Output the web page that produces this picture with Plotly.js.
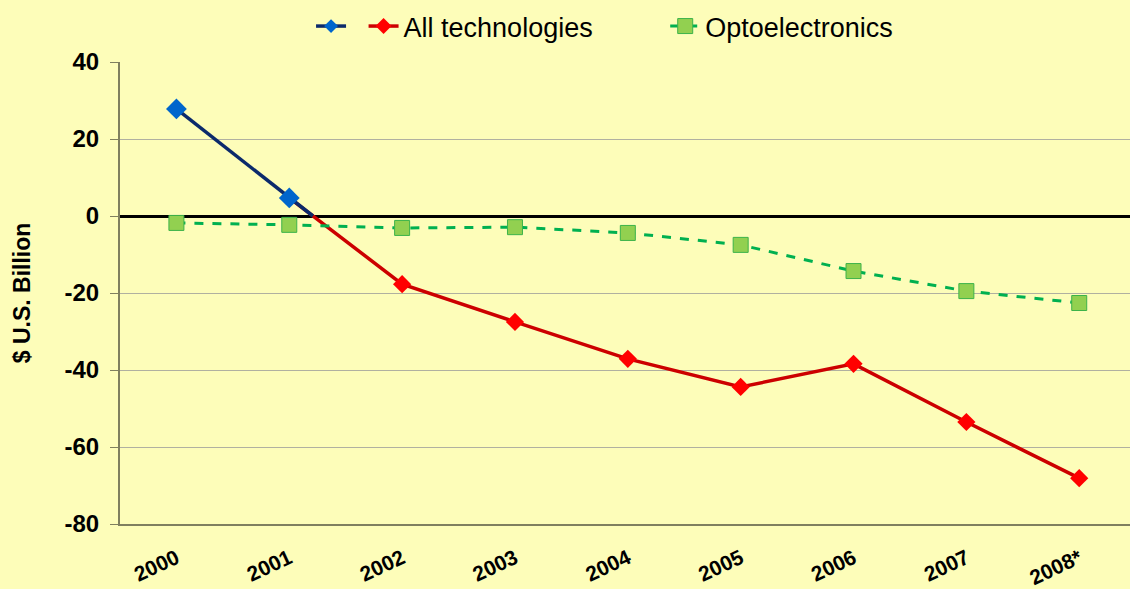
<!DOCTYPE html>
<html><head><meta charset="utf-8">
<script src="https://cdn.plot.ly/plotly-3.0.1.min.js"></script>
<style>body{margin:0;background:#FDFDB9;} #chart{width:1130px;height:589px;}</style>
</head><body><div id="chart"></div>
<script>
const years = ["2000","2001","2002","2003","2004","2005","2006","2007","2008*"];
const allTech = [27.8, 4.7, -17.7, -27.5, -37.1, -44.4, -38.4, -53.5, -68.1];
const opto = [-1.8, -2.3, -3.1, -2.9, -4.4, -7.5, -14.3, -19.5, -22.6];
const yTickVals = [40, 20, 0, -20, -40, -60, -80];
const yTickText = ["40", "20", "0", "-20", "-40", "-60", "-80"];

const idx = years.map((_, i) => i);
// positive part of "All technologies" drawn in blue up to the zero crossing
const cross = 1 + allTech[1] / (allTech[1] - allTech[2]);

const red = {x: idx.slice(1), y: allTech.slice(1), mode: 'lines+markers', name: 'All technologies         ',
   line: {color: '#CC0000', width: 3.5}, legendrank: 2,
   marker: {symbol: 'diamond', size: allTech.slice(1).map((v, i) => i === 0 ? 0 : 14), color: '#FF0000', line: {width: 0}, opacity: 1}};
const blue = {x: [0, 1, cross], y: [allTech[0], allTech[1], 0], mode: 'lines+markers', name: ' ',
   line: {color: '#0B2A6B', width: 3.5}, legendrank: 1,
   marker: {symbol: 'diamond', size: [16, 16, 0], color: '#0066CC', line: {width: 0}, opacity: 1}};
const green = {x: idx, y: opto, mode: 'lines+markers', name: 'Optoelectronics',
   line: {color: '#00B050', width: 3, dash: 'dash'}, legendrank: 3,
   marker: {symbol: 'square', size: 15, color: '#92D050', line: {color: '#3CB34A', width: 1}, opacity: 1}};

const layout = {
  width: 1130, height: 589,
  paper_bgcolor: '#FDFDB9', plot_bgcolor: '#FDFDB9',
  margin: {l: 120, r: 0, t: 62, b: 65},
  font: {family: 'Arial, Liberation Sans, sans-serif', color: '#000'},
  showlegend: true,
  legend: {orientation: 'h', xref: 'container', x: 0.535, xanchor: 'center', yref: 'container', y: 0.955, yanchor: 'middle',
           font: {size: 27, family: 'Arial, Liberation Sans, sans-serif'}, bgcolor: 'rgba(0,0,0,0)',
           traceorder: 'normal'},
  xaxis: {range: [-0.5, 8.45], tickmode: 'array', tickvals: idx, ticktext: years, tickangle: -25,
          showgrid: false, zeroline: false, showline: true, linecolor: '#7F7F5F', linewidth: 2,
          ticks: '', ticklabelstandoff: 12, tickfont: {size: 21, weight: 'bold'}},
  yaxis: {range: [-80, 40], tickmode: 'array', tickvals: yTickVals, ticktext: yTickText,
          showgrid: true, gridcolor: '#B0B0A0', gridwidth: 1,
          zeroline: true, zerolinecolor: '#000', zerolinewidth: 3,
          showline: true, linecolor: '#7F7F5F', linewidth: 2, ticks: 'outside', ticklen: 8, tickcolor: '#7F7F5F',
          ticklabelstandoff: 6, tickfont: {size: 24, weight: 'bold'},
          title: {text: '$ U.S. Billion', font: {size: 23, weight: 'bold'}, standoff: 27}}
};
Plotly.newPlot('chart', [red, green, blue], layout, {displayModeBar: false});
</script></body></html>
